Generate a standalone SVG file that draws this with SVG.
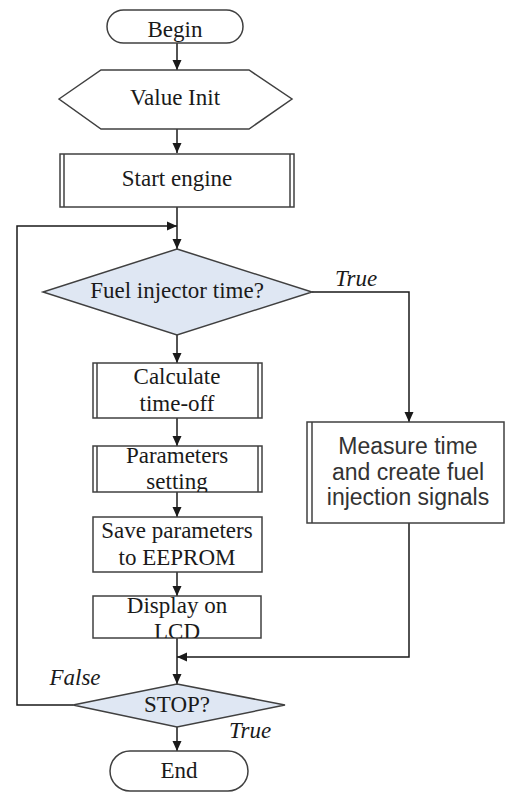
<svg xmlns="http://www.w3.org/2000/svg" width="507" height="793" viewBox="0 0 507 793">
  <style>
    .shape { fill: #ffffff; stroke: #404040; stroke-width: 1.5; }
    .decision { fill: #dfe7f3; stroke: #404040; stroke-width: 1.5; }
    .edge { fill: none; stroke: #1a1a1a; stroke-width: 1.5; }
    .serif { font-family: "Liberation Serif", "Times New Roman", serif; font-size: 23px; fill: #1a1a1a; text-anchor: middle; }
    .sans { font-family: "Liberation Sans", Arial, sans-serif; font-size: 23px; fill: #333333; text-anchor: middle; }
    .label { font-family: "Liberation Serif", "Times New Roman", serif; font-size: 23px; font-style: italic; fill: #1a1a1a; text-anchor: middle; }
  </style>
  <defs>
    <marker id="arrow" markerUnits="userSpaceOnUse" markerWidth="10" markerHeight="10" viewBox="0 0 10 10" refX="10" refY="5" orient="auto">
      <path d="M0,0.5 L10,5 L0,9.5 Z" fill="#1a1a1a"/>
    </marker>
    <clipPath id="clipParams"><rect x="93" y="446" width="169" height="46"/></clipPath>
    <clipPath id="clipDisplay"><rect x="93" y="596" width="168" height="42"/></clipPath>
  </defs>

  <!-- connectors -->
  <g id="connectors">
    <line class="edge" x1="177" y1="43" x2="177" y2="70" marker-end="url(#arrow)"/>
    <line class="edge" x1="177" y1="129" x2="177" y2="153" marker-end="url(#arrow)"/>
    <line class="edge" x1="177" y1="207" x2="177" y2="249" marker-end="url(#arrow)"/>
    <polyline class="edge" points="73,705 17,705 17,226 177,226" marker-end="url(#arrow)"/>
    <line class="edge" x1="177" y1="335" x2="177" y2="363" marker-end="url(#arrow)"/>
    <line class="edge" x1="177" y1="418" x2="177" y2="446" marker-end="url(#arrow)"/>
    <line class="edge" x1="177" y1="492" x2="177" y2="517" marker-end="url(#arrow)"/>
    <line class="edge" x1="177" y1="572" x2="177" y2="596" marker-end="url(#arrow)"/>
    <line class="edge" x1="177" y1="638" x2="177" y2="684" marker-end="url(#arrow)"/>
    <polyline class="edge" points="312,292 409,292 409,422" marker-end="url(#arrow)"/>
    <polyline class="edge" points="409,523 409,657 177,657" marker-end="url(#arrow)"/>
    <line class="edge" x1="177" y1="727" x2="177" y2="751" marker-end="url(#arrow)"/>
    <text class="label" x="356" y="286">True</text>
    <text class="label" x="75" y="685">False</text>
    <text class="label" x="250" y="738">True</text>
  </g>

  <!-- terminal: start -->
  <g id="begin">
    <rect class="shape" x="107" y="10" width="136" height="33" rx="16.5"/>
    <text class="serif" x="175" y="37">Begin</text>
  </g>

  <!-- preparation -->
  <g id="value-init">
    <polygon class="shape" points="59,99 101,70 249,70 292,99 249,129 101,129"/>
    <text class="serif" x="175" y="105">Value Init</text>
  </g>

  <!-- predefined process -->
  <g id="start-engine">
    <rect class="shape" x="60" y="154" width="234" height="53"/>
    <line class="shape" x1="64" y1="154" x2="64" y2="207"/>
    <line class="shape" x1="290" y1="154" x2="290" y2="207"/>
    <text class="serif" x="177" y="186">Start engine</text>
  </g>

  <g id="fuel-injector-time">
    <polygon class="decision" points="177,249 312,292 177,335 43,292"/>
    <text class="serif" x="177" y="298">Fuel injector time?</text>
  </g>

  <g id="calculate-time-off">
    <rect class="shape" x="93" y="363" width="169" height="55"/>
    <line class="shape" x1="97" y1="363" x2="97" y2="418"/>
    <line class="shape" x1="258" y1="363" x2="258" y2="418"/>
    <text class="serif" x="177" y="384">Calculate</text>
    <text class="serif" x="177" y="411">time-off</text>
  </g>

  <g id="parameters-setting">
    <rect class="shape" x="93" y="446" width="169" height="46"/>
    <line class="shape" x1="97" y1="446" x2="97" y2="492"/>
    <line class="shape" x1="258" y1="446" x2="258" y2="492"/>
    <g clip-path="url(#clipParams)">
      <text class="serif" x="177" y="463">Parameters</text>
      <text class="serif" x="177" y="489">setting</text>
    </g>
  </g>

  <g id="save-eeprom">
    <rect class="shape" x="93" y="517" width="169" height="55"/>
    <text class="serif" x="177" y="538">Save parameters</text>
    <text class="serif" x="177" y="565">to EEPROM</text>
  </g>

  <g id="display-lcd">
    <rect class="shape" x="93" y="596" width="168" height="42"/>
    <g clip-path="url(#clipDisplay)">
      <text class="serif" x="177" y="613">Display on</text>
      <text class="serif" x="177" y="639">LCD</text>
    </g>
  </g>

  <g id="measure-time">
    <rect class="shape" x="307" y="422" width="197" height="101"/>
    <line class="shape" x1="312" y1="422" x2="312" y2="523"/>
    <text class="sans" x="408" y="454">Measure time</text>
    <text class="sans" x="408" y="480">and create fuel</text>
    <text class="sans" x="408" y="505">injection signals</text>
  </g>

  <g id="stop">
    <polygon class="decision" points="177,684 285,705 177,727 73,705"/>
    <text class="serif" x="177" y="712">STOP?</text>
  </g>

  <g id="end">
    <rect class="shape" x="110" y="751" width="138" height="40" rx="20"/>
    <text class="serif" x="179" y="778">End</text>
  </g>
</svg>
